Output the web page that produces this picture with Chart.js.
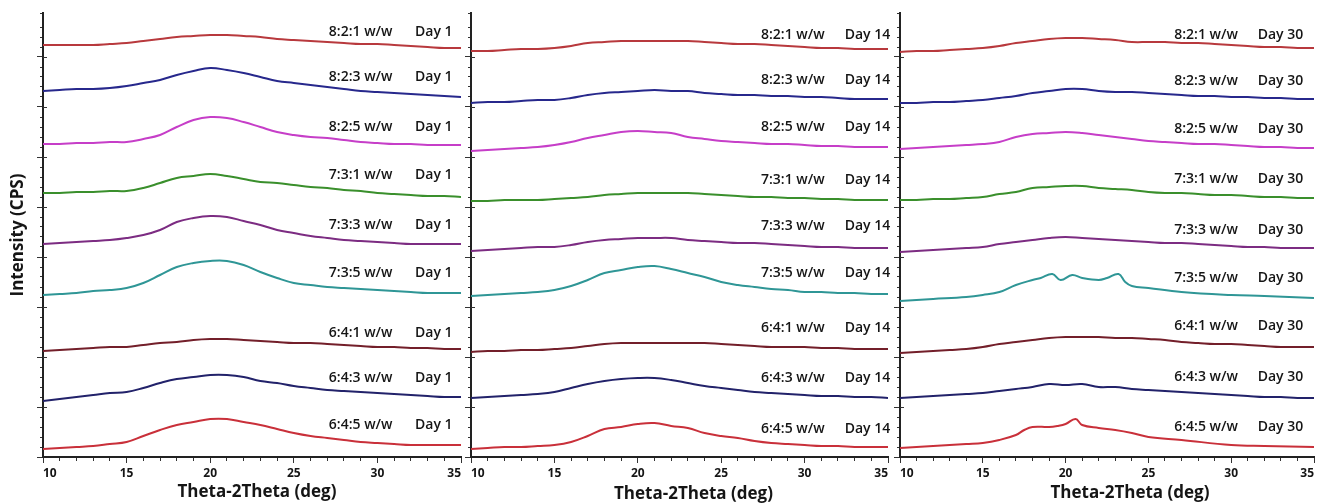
<!DOCTYPE html>
<html><head><meta charset="utf-8">
<script src="https://cdn.jsdelivr.net/npm/chart.js@4.4.1/dist/chart.umd.min.js"></script>
<style>
html,body{margin:0;padding:0;background:#fff;}
#wrap{position:relative;width:1317px;height:504px;overflow:hidden;background:#fff;}
canvas{position:absolute;top:0;}
</style></head><body>
<div id="wrap">
<canvas id="p1" width="470" height="504" style="left:0px"></canvas>
<canvas id="p2" width="430" height="504" style="left:463px"></canvas>
<canvas id="p3" width="425" height="504" style="left:892px"></canvas>
</div>
<script>
// ---------- categories / labels ----------
const RATIO_LABELS = ['8:2:1 w/w','8:2:3 w/w','8:2:5 w/w','7:3:1 w/w','7:3:3 w/w','7:3:5 w/w','6:4:1 w/w','6:4:3 w/w','6:4:5 w/w'];
const DAY_LABELS = ['Day 1','Day 14','Day 30'];
const X_TITLE = 'Theta-2Theta (deg)';
const Y_TITLE = 'Intensity (CPS)';
const X_TICK_LABELS = [10,15,20,25,30,35];

// common 2-theta grid (deg)
const X_DEG = [10,11,12,13,14,15,16,17,18,19,20,21,22,23,24,25,26,27,28,29,30,31,32,33,34,35];

// ---------- Day 1 (stacked intensity, arbitrary units) ----------
const d1_821 = [412,412,412,412,413,414,416,418,420,421,422,422,421,420,418,417,416,415,414,413,413,412,411,410,409,409];
const d1_823 = [366,367,368,368,369,371,374,377,382,386,389,387,384,380,376,374,372,370,368,366,365,364,363,362,361,360];
const d1_825 = [313,313,314,314,315,315,318,322,330,337,340,339,335,330,325,322,320,319,317,315,314,313,313,312,312,312];
const d1_731 = [264,264,265,265,266,266,269,274,279,281,283,281,278,275,274,272,270,269,267,266,264,263,262,261,261,260];
const d1_733 = [213,214,215,216,217,219,222,227,235,239,241,240,236,232,227,224,221,219,217,216,215,214,213,213,213,213];
const d1_735 = [162,163,164,166,167,169,174,182,190,194,196,196,192,185,179,174,172,170,169,168,167,166,165,164,164,164];
const d1_641 = [106,107,108,109,110,110,112,114,115,117,118,118,117,116,115,114,114,113,112,111,110,110,109,109,108,108];
const d1_643 = [56,58,60,62,64,65,69,74,78,80,82,82,80,76,74,71,69,67,66,65,64,63,62,61,60,60];
const d1_645 = [8,9,10,11,13,15,21,27,32,35,38,38,35,32,28,24,21,19,17,15,14,13,12,12,12,12];

// ---------- Day 14 ----------
const d14_821 = [406,406,407,408,408,409,411,414,415,416,416,416,416,416,415,414,413,413,412,411,410,409,409,408,408,408];
const d14_823 = [354,355,355,356,357,357,359,362,364,365,366,367,366,366,364,363,362,362,361,361,360,360,359,358,358,358];
const d14_825 = [306,307,308,309,310,312,315,319,322,325,326,325,324,320,318,316,315,314,313,313,312,311,311,310,310,310];
const d14_731 = [256,256,257,257,257,258,259,260,262,263,264,264,264,264,263,262,261,260,260,259,259,258,258,257,257,257];
const d14_733 = [206,207,208,209,210,210,212,215,217,218,219,219,219,217,216,215,214,214,213,212,211,210,210,209,209,209];
const d14_735 = [161,162,163,164,165,167,171,177,184,187,190,191,188,184,180,175,172,170,168,167,165,165,164,164,163,163];
const d14_641 = [105,106,106,107,107,108,109,111,113,114,114,114,114,114,114,113,112,111,110,110,110,109,109,108,108,108];
const d14_643 = [59,60,61,62,63,65,69,73,76,78,79,79,77,74,71,69,67,65,64,63,62,61,61,60,60,59];
const d14_645 = [8,9,10,10,11,12,15,21,28,30,33,34,31,29,24,21,19,16,14,13,12,11,11,10,10,10];

// ---------- Day 30 ----------
const d30_821 = [405,406,406,407,408,409,411,414,416,418,419,419,418,417,415,415,415,414,414,413,412,411,410,410,409,409];
const d30_823 = [354,354,355,355,356,357,359,361,364,366,368,368,366,365,365,364,363,362,361,361,360,360,359,359,358,358];
const d30_825 = [308,309,310,311,312,313,315,320,323,324,325,324,322,320,318,316,315,314,313,313,312,311,310,310,309,309];
const d30_731 = [257,257,258,258,259,260,263,265,269,270,271,271,269,268,267,265,264,264,263,262,262,261,260,260,259,259];
const d30_733 = [205,206,207,208,209,210,213,215,217,219,220,219,218,217,216,215,214,214,213,212,211,210,210,209,209,209];
const X_d30_735 = [10,12,14,15,16,17,18,18.5,19.2,19.7,20.4,21,22,22.5,23.2,23.6,24,25,27,30,32,35];
const d30_735   = [156,158,160,162,165,172,177,179,183,177,182,179,177,179,183,175,171,169,165,162,161,159];
const d30_641 = [104,105,106,107,108,110,113,115,117,119,120,120,120,119,119,118,117,115,114,113,113,112,111,110,110,110];
const d30_643 = [59,60,61,62,63,64,66,68,70,73,72,73,70,70,68,67,66,65,64,63,62,61,60,60,59,59];
const X_d30_645 = [10,12,14,15,16,17,17.5,18,19,19.5,20,20.6,21,22,23,24,25,27,30,32,35];
const d30_645   = [9,11,13,14,17,22,27,30,30,31,33,38,32,29,27,24,20,17,12,11,10];

// ---------- styles ----------
const COLORS = ['#b8393d','#27288c','#c63ec8','#3a8f2c','#7c2c82','#2f9696','#731f2a','#22226a','#c9303a'];
const FONT = '"Open Sans", "DejaVu Sans", sans-serif';
const INK = '#151515';

const PANELS = [
  { id:'p1', day:DAY_LABELS[0], xs:[X_DEG,X_DEG,X_DEG,X_DEG,X_DEG,X_DEG,X_DEG,X_DEG,X_DEG],
    ys:[d1_821,d1_823,d1_825,d1_731,d1_733,d1_735,d1_641,d1_643,d1_645],
    yWidth:43, padRight:9, yTitle:true, titleDx:5, titleY:492,
    labelY:[425,380,330,282,232,184,124,79,32], ratioX:30.9, dayX:32.25 },
  { id:'p2', day:DAY_LABELS[1], xs:[X_DEG,X_DEG,X_DEG,X_DEG,X_DEG,X_DEG,X_DEG,X_DEG,X_DEG],
    ys:[d14_821,d14_823,d14_825,d14_731,d14_733,d14_735,d14_641,d14_643,d14_645],
    yWidth:8, padRight:5, yTitle:false, titleDx:14, titleY:494,
    labelY:[422,377,330,277,231,184,129,79,28], ratioX:31.2, dayX:32.4 },
  { id:'p3', day:DAY_LABELS[2], xs:[X_DEG,X_DEG,X_DEG,X_DEG,X_DEG,X_d30_735,X_DEG,X_DEG,X_d30_645],
    ys:[d30_821,d30_823,d30_825,d30_731,d30_733,d30_735,d30_641,d30_643,d30_645],
    yWidth:8, padRight:2, yTitle:false, titleDx:23, titleY:493,
    labelY:[422,376,328,278,227,179,131,80,30], ratioX:30.4, dayX:31.6 }
];

function panelPlugin(p){
  return {
    id:'panelText',
    afterDatasetsDraw(chart){
      const c = chart.ctx, xs = chart.scales.x, ys = chart.scales.y, a = chart.chartArea;
      c.save();
      // inward half of the major y ticks
      c.strokeStyle = '#333'; c.lineWidth = 1;
      ys.ticks.forEach(t=>{
        if (t.value % 50 === 0 && t.value > 0) {
          const y = Math.round(ys.getPixelForValue(t.value)) + 0.5;
          c.beginPath(); c.moveTo(a.left, y); c.lineTo(a.left + 4, y); c.stroke();
        }
      });
      // trace labels
      c.font = '600 14px ' + FONT;
      c.fillStyle = INK;
      c.textBaseline = 'middle';
      RATIO_LABELS.forEach((txt,i)=>{
        const y = ys.getPixelForValue(p.labelY[i]);
        c.textAlign = 'right';
        c.fillText(txt, xs.getPixelForValue(p.ratioX), y);
        c.textAlign = 'left';
        c.fillText(p.day, xs.getPixelForValue(p.dayX), y);
      });
      // x-axis title
      c.font = 'bold 17px ' + FONT;
      c.textAlign = 'center';
      c.fillText(X_TITLE, (a.left + a.right) / 2 + p.titleDx, p.titleY);
      c.restore();
    }
  };
}

PANELS.forEach(p=>{
  const datasets = p.ys.map((arr,i)=>({
    label: RATIO_LABELS[i] + ' ' + p.day,
    data: arr.map((v,j)=>({x:p.xs[i][j], y:v})),
    borderColor: COLORS[i],
    borderWidth: 2,
    pointRadius: 0,
    fill: false,
    tension: 0.4
  }));
  new Chart(document.getElementById(p.id), {
    type:'line',
    data:{datasets},
    plugins:[panelPlugin(p)],
    options:{
      responsive:false,
      animation:false,
      devicePixelRatio:1,
      layout:{padding:{top:13,right:p.padRight,bottom:0,left:0}},
      plugins:{legend:{display:false},tooltip:{enabled:false}},
      scales:{
        x:{
          type:'linear', min:10, max:35,
          afterFit:(s)=>{ s.height = 47; },
          border:{display:true,color:'#222',width:2},
          grid:{drawOnChartArea:false, drawTicks:true, tickLength:6, tickColor:'#333', tickWidth:1,
                tickBorderDash:(ctx)=> (ctx.tick && X_TICK_LABELS.includes(ctx.tick.value)) ? [] : [3,100]},
          ticks:{stepSize:1, autoSkip:false, maxRotation:0, align:'inner', padding:3,
                 color:INK, font:{family:FONT, size:12, weight:'bold'},
                 callback:(v)=> X_TICK_LABELS.includes(v) ? String(v) : ''},
          title:{display:false, text:X_TITLE}
        },
        y:{
          type:'linear', min:0, max:444,
          afterFit:(s)=>{ s.width = p.yWidth; },
          border:{display:true,color:'#222',width:2},
          grid:{drawOnChartArea:false, drawTicks:true, tickLength:6, tickColor:'#333', tickWidth:1,
                tickBorderDash:(ctx)=> (ctx.tick && ctx.tick.value % 50 === 0) ? [] : [0,3,3,100]},
          ticks:{display:false, stepSize:10, autoSkip:false},
          title:{display:p.yTitle, text:Y_TITLE, color:INK, font:{family:FONT,size:17,weight:'bold'},
                 padding:{top:8,bottom:0}}
        }
      }
    }
  });
});
</script>
</body></html>
